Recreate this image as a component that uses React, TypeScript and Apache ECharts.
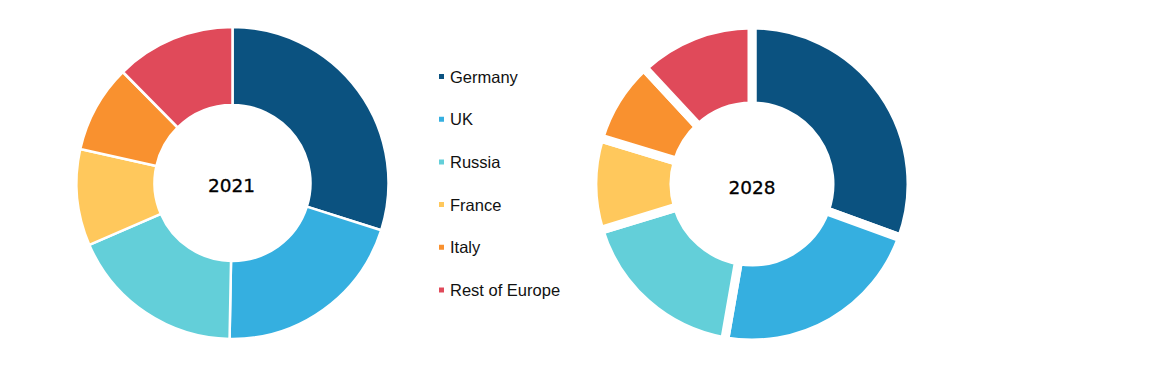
import React, { useEffect, useRef } from "react";
import * as echarts from "echarts";

const categories = ["Germany", "UK", "Russia", "France", "Italy", "Rest of Europe"];
const colors = ["#0B5280", "#35AFE0", "#63CFD9", "#FFC85C", "#F9912F", "#E04A5A"];
const values2021 = [29.9, 20.4, 18.2, 10.0, 9.1, 12.4];
const values2028 = [30.5, 22.2, 17.5, 9.4, 8.4, 11.9];
const years = ["2021", "2028"];

export default function App() {
  const ref = useRef<HTMLDivElement>(null);
  useEffect(() => {
    document.body.style.margin = "0";
    const chart = echarts.init(ref.current!, null, { renderer: "svg" });
    const mk = (vals: number[]) => categories.map((c, i) => ({ name: c, value: vals[i], itemStyle: { color: colors[i] } }));
    const yearStyle = { fontSize: 18.5, fontFamily: "DejaVu Sans, sans-serif", fill: "#000", textAlign: "center", textVerticalAlign: "middle", stroke: "#000", lineWidth: 0.3 };
    chart.setOption({
      animation: false,
      backgroundColor: "#ffffff",
      legend: {
        orient: "vertical",
        left: 432,
        top: 63,
        itemGap: 25.7,
        icon: "rect",
        itemWidth: 7,
        itemHeight: 7,
        data: categories,
        textStyle: { fontFamily: "Liberation Sans, Arial, sans-serif", fontSize: 16.5, color: "#111" },
      },
      graphic: [
        { type: "text", x: 231.5, y: 185, style: { ...yearStyle, text: years[0] } },
        { type: "text", x: 752, y: 187, style: { ...yearStyle, text: years[1] } },
      ],
      series: [
        {
          type: "pie",
          name: years[0],
          center: [232.5, 183],
          radius: [78, 156],
          startAngle: 90,
          clockwise: true,
          label: { show: false },
          labelLine: { show: false },
          itemStyle: { borderColor: "#fff", borderWidth: 2.5 },
          emphasis: { disabled: true },
          data: mk(values2021),
        },
        {
          type: "pie",
          name: years[1],
          center: [752, 184],
          radius: [78, 159],
          startAngle: 90,
          clockwise: true,
          label: { show: false },
          labelLine: { show: false },
          itemStyle: { borderColor: "#fff", borderWidth: 9 },
          emphasis: { disabled: true },
          data: mk(values2028),
        },
      ],
    });
    return () => chart.dispose();
  }, []);
  return <div ref={ref} style={{ width: 1169, height: 368 }} />;
}
